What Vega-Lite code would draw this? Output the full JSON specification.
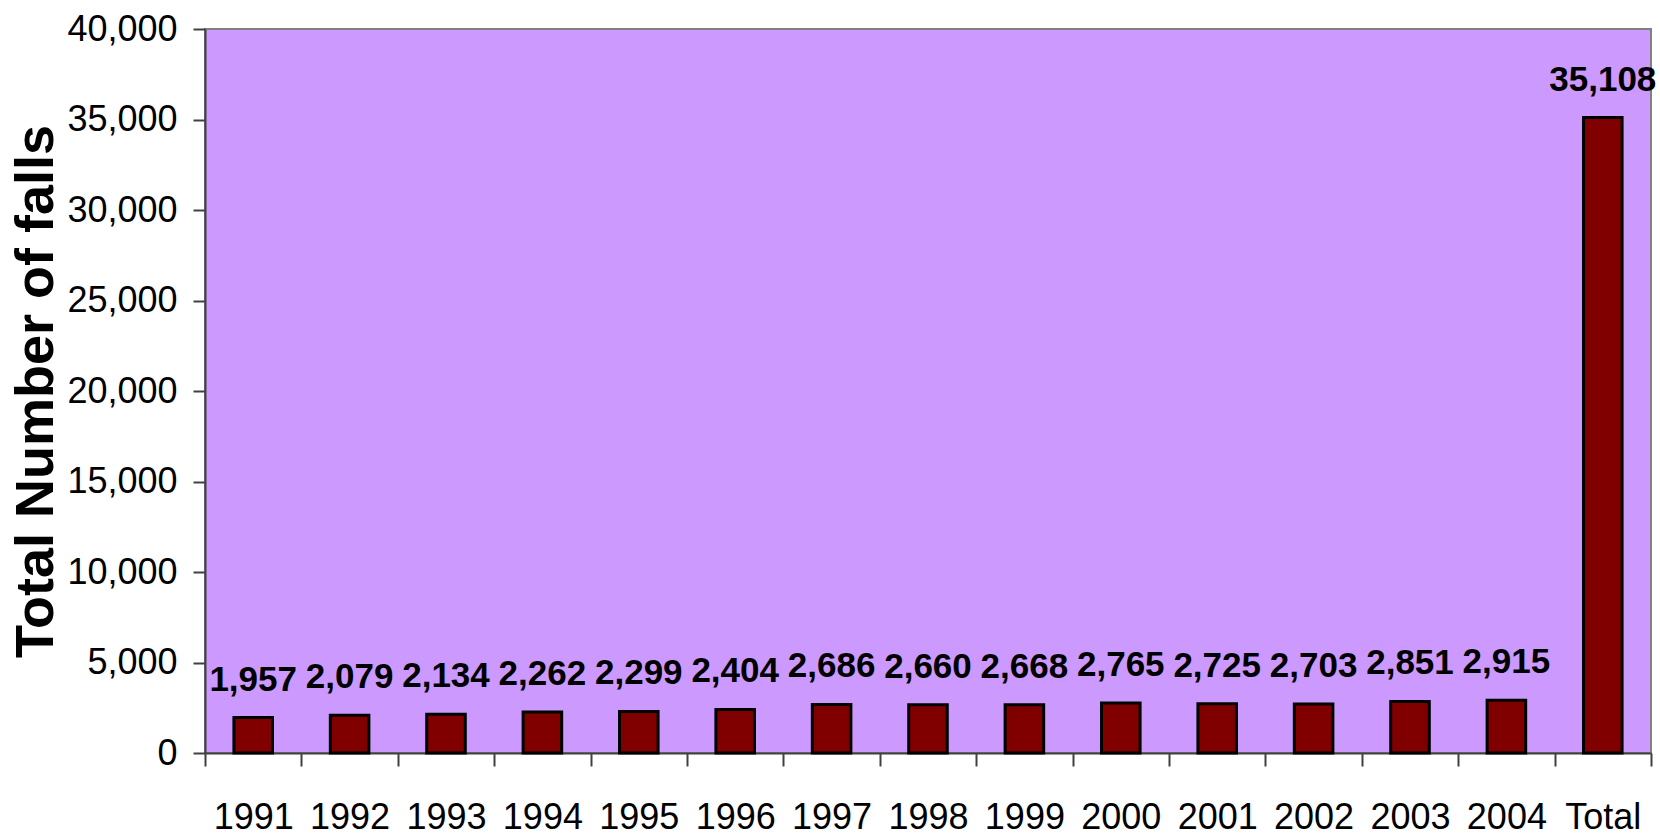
{
  "$schema": "https://vega.github.io/schema/vega-lite/v6.json",
  "width": 1446,
  "height": 724,
  "autosize": {"type": "none"},
  "padding": {"left": 205, "top": 29, "right": 9, "bottom": 86},
  "background": "white",
  "config": {"view": {"fill": "#CC99FF", "stroke": "#808080", "strokeWidth": 2}},
  "data": {"values": [
    {"year": "1991", "falls": 1957},
    {"year": "1992", "falls": 2079},
    {"year": "1993", "falls": 2134},
    {"year": "1994", "falls": 2262},
    {"year": "1995", "falls": 2299},
    {"year": "1996", "falls": 2404},
    {"year": "1997", "falls": 2686},
    {"year": "1998", "falls": 2660},
    {"year": "1999", "falls": 2668},
    {"year": "2000", "falls": 2765},
    {"year": "2001", "falls": 2725},
    {"year": "2002", "falls": 2703},
    {"year": "2003", "falls": 2851},
    {"year": "2004", "falls": 2915},
    {"year": "Total", "falls": 35108}
  ]},
  "encoding": {
    "x": {
      "field": "year", "type": "nominal", "sort": null,
      "scale": {"paddingInner": 0, "paddingOuter": 0},
      "axis": {
        "title": null, "labelAngle": 0, "tickBand": "extent",
        "domainColor": "#404040", "domainWidth": 2,
        "tickColor": "#404040", "tickWidth": 2, "tickSize": 13,
        "labelFont": "Liberation Sans", "labelFontSize": 36, "labelColor": "black",
        "labelPadding": 34
      }
    },
    "y": {
      "field": "falls", "type": "quantitative",
      "scale": {"domain": [0, 40000], "nice": false},
      "axis": {
        "title": "Total Number of falls",
        "titleFont": "Liberation Sans", "titleFontWeight": "bold", "titleFontSize": 54, "titleColor": "black",
        "titlePadding": 3,
        "values": [0, 5000, 10000, 15000, 20000, 25000, 30000, 35000, 40000],
        "format": ",d", "grid": false,
        "domainColor": "#404040", "domainWidth": 2,
        "tickColor": "#404040", "tickWidth": 2, "tickSize": 12,
        "labelFont": "Liberation Sans", "labelFontSize": 36, "labelColor": "black",
        "labelPadding": 16
      }
    }
  },
  "layer": [
    {"mark": {"type": "bar", "width": {"band": 0.4}, "color": "#800000", "stroke": "black", "strokeWidth": 3}},
    {
      "mark": {"type": "text", "font": "Liberation Sans", "fontWeight": "bold", "fontSize": 35, "baseline": "alphabetic", "dy": -27, "color": "black"},
      "encoding": {"text": {"field": "falls", "type": "quantitative", "format": ",d"}}
    }
  ]
}
